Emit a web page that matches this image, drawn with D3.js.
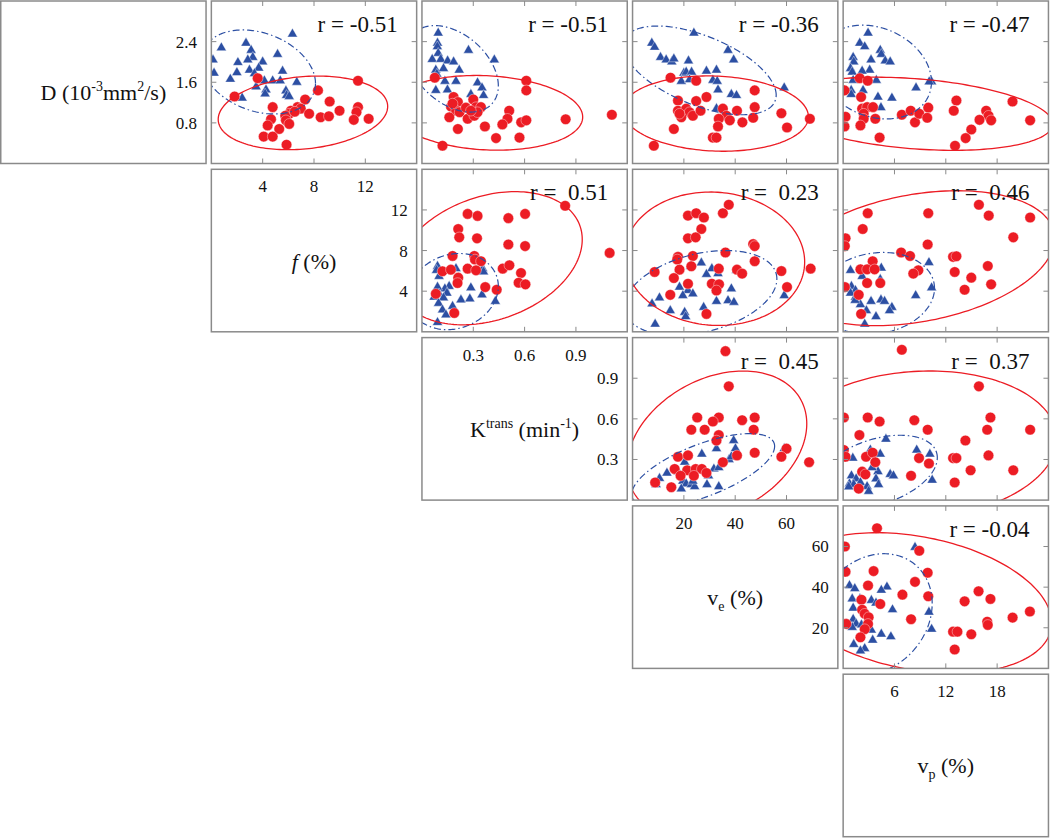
<!DOCTYPE html>
<html><head><meta charset="utf-8">
<script src="https://cdn.jsdelivr.net/npm/d3@7"></script>
<style>
body{margin:0;background:#fff;}
svg text{font-family:"Liberation Serif","Times New Roman",Times,"DejaVu Serif",serif;fill:#111;white-space:pre;}
</style></head><body>
<svg id="c" width="1050" height="838" font-family="Liberation Serif, Times New Roman, serif"></svg>
<script>
// ---------- variables / axes ----------
const varMax = [3.2, 16, 1.2, 80, 24];
const varTicks = [[0.8,1.6,2.4],[4,8,12],[0.3,0.6,0.9],[20,40,60],[6,12,18]];
const tickLabels = [["0.8","1.6","2.4"],["4","8","12"],["0.3","0.6","0.9"],["20","40","60"],["6","12","18"]];
const varLabels = [
  [["D (10","n"],["-3","sup"],["mm","n"],["2","sup"],["/s)","n"]],
  [["f","it"],[" (%)","n"]],
  [["K","n"],["trans","sup"],[" (min","n"],["-1","sup"],[")","n"]],
  [["v","n"],["e","sub"],[" (%)","n"]],
  [["v","n"],["p","sub"],[" (%)","n"]]
];
const rValues = [[0,1,-0.51],[0,2,-0.51],[0,3,-0.36],[0,4,-0.47],[1,2,0.51],[1,3,0.23],[1,4,0.46],[2,3,0.45],[2,4,0.37],[3,4,-0.04]];

// ---------- data: [x (column variable), y (row variable)] ----------
const blue_D_f = [[0.78,2.28],[2.7,2.37],[3.1,2.23],[3.23,2.09],[2.84,2.04],[5.16,2.15],[0.13,2.04],[2.07,1.99],[4.0,2.0],[3.69,1.88],[2.97,1.84],[1.99,1.79],[0.21,1.78],[3.36,1.77],[5.55,1.82],[1.48,1.66],[4.13,1.63],[4.78,1.63],[5.37,1.63],[6.66,1.6],[3.49,1.51],[4.26,1.45],[5.81,1.43],[4.19,1.37],[5.86,1.34],[2.4,1.29],[6.07,1.32],[6.32,2.55]];
const red_D_f = [[3.61,1.68],[1.81,1.32],[11.43,1.63],[8.31,1.44],[7.31,1.26],[9.22,1.22],[4.78,1.11],[6.71,1.11],[6.2,1.04],[6.97,1.08],[11.43,1.11],[9.99,1.04],[11.31,1.01],[6.07,0.98],[7.62,0.98],[5.76,0.94],[8.52,0.91],[9.16,0.93],[4.65,0.87],[5.81,0.85],[11.1,0.86],[12.26,0.88],[4.39,0.75],[6.07,0.78],[5.29,0.68],[4.08,0.53],[4.78,0.53],[5.86,0.37],[6.5,1.02]];
const blue_D_K = [[0.095,2.57],[0.091,2.37],[0.09,2.3],[0.095,2.17],[0.06,2.05],[0.11,2.05],[0.15,2.02],[0.185,2.0],[0.272,2.23],[0.423,2.04],[0.081,1.84],[0.126,1.87],[0.087,1.76],[0.218,1.84],[0.134,1.62],[0.199,1.62],[0.325,1.59],[0.351,1.49],[0.081,1.44],[0.149,1.45],[0.286,1.36],[0.36,1.34]];
const red_D_K = [[0.075,1.69],[0.185,1.31],[0.21,1.21],[0.17,1.12],[0.2,1.04],[0.16,0.91],[0.22,1.01],[0.257,1.1],[0.30,1.26],[0.316,1.11],[0.345,1.11],[0.267,0.88],[0.306,0.94],[0.325,1.01],[0.21,0.68],[0.368,0.73],[0.12,0.35],[0.433,0.5],[0.51,1.04],[0.50,0.88],[0.47,0.77],[0.58,0.81],[0.61,0.85],[0.57,0.51],[0.61,1.63],[0.61,1.44],[0.84,0.87],[1.11,0.96],[0.286,1.04],[0.179,1.18]];
const blue_D_ve = [[23.9,2.57],[7.5,2.37],[8.6,2.29],[37.2,2.23],[10.9,2.09],[13.1,2.04],[15.3,2.0],[16.1,2.06],[39.4,2.04],[21.8,2.02],[20,1.78],[20.9,1.8],[23,1.8],[28.8,1.82],[32.7,1.84],[19,1.62],[22.2,1.65],[31.3,1.64],[33,1.62],[33.3,1.45],[38.5,1.36],[40.5,1.34],[59.1,1.49],[32.7,1.08]];
const red_D_ve = [[14.8,1.69],[24.8,1.63],[28.8,1.31],[17.7,1.24],[24.8,1.23],[17.7,1.04],[20.9,1.08],[22.2,1.01],[19,0.91],[23.5,0.94],[26.5,1.04],[35.2,1.08],[36.6,0.94],[37.9,0.85],[33.6,0.88],[33.3,0.73],[40.7,1.04],[42.8,0.81],[47.6,1.44],[47.6,1.11],[47,0.9],[58,0.99],[60.2,0.71],[69.1,0.88],[16.1,0.68],[31.3,0.51],[32.7,0.51],[8.3,0.35],[18.3,0.98]];
const blue_D_vp = [[2.91,2.57],[1.94,2.37],[2.52,2.3],[4.34,2.23],[4.46,2.15],[1.17,2.09],[3.26,2.04],[4.92,2.02],[5.5,2.0],[1.24,2.0],[0.86,1.87],[3.1,1.84],[2.22,1.82],[1.06,1.8],[3.88,1.64],[1.17,1.64],[10.34,1.61],[10.06,1.61],[8.52,1.49],[2.33,1.44],[0.94,1.44],[0.94,1.36],[4.07,1.31],[5.7,1.29],[4.42,1.1]];
const red_D_vp = [[1.94,1.68],[2.87,1.63],[0.16,1.44],[2.1,1.31],[13.24,1.24],[12.93,1.04],[19.8,1.22],[2.22,1.08],[2.8,1.11],[3.49,1.11],[2.4,0.98],[0.28,0.92],[2.4,0.88],[3.76,0.88],[2.02,0.75],[0.16,0.73],[6.86,0.96],[7.9,1.04],[8.4,0.81],[8.9,0.98],[9.95,1.1],[9.83,0.9],[4.26,0.51],[16.72,1.04],[17.0,0.94],[17.3,0.85],[15.94,0.86],[14.98,0.67],[14.32,0.5],[13.08,0.35],[21.86,0.85]];
const blue_f_K = [[0.091,6.45],[0.085,6.05],[0.1,5.46],[0.199,6.22],[0.355,6.22],[0.36,5.9],[0.159,4.47],[0.134,4.24],[0.091,4.4],[0.286,4.34],[0.1,3.74],[0.146,3.81],[0.071,3.41],[0.228,3.14],[0.28,3.24],[0.351,3.64],[0.429,3.0],[0.126,3.34],[0.097,2.81],[0.179,2.51],[0.12,2.15],[0.14,1.66],[0.091,0.92]];
const red_f_K = [[0.837,12.41],[0.267,11.61],[0.325,11.41],[0.505,11.19],[0.603,11.61],[0.212,10.12],[0.218,9.3],[0.322,9.2],[0.505,8.6],[0.603,8.44],[1.097,7.77],[0.179,7.47],[0.306,7.47],[0.31,7.12],[0.345,6.95],[0.12,5.96],[0.169,6.12],[0.267,6.22],[0.316,6.05],[0.472,6.22],[0.511,6.55],[0.579,5.79],[0.212,5.33],[0.208,4.8],[0.565,4.83],[0.605,4.67],[0.37,4.4],[0.437,4.14],[0.081,3.74],[0.189,1.85]];
const blue_f_ve = [[26.8,6.78],[22.6,6.45],[30.9,6.22],[28.8,5.66],[33.3,5.73],[40.5,6.05],[18.3,4.4],[21.6,4.07],[23.5,3.74],[19.6,3.57],[38.5,4.24],[10.5,3.34],[59.1,3.57],[32.7,3.0],[37.2,3.08],[39.5,2.91],[7.6,2.75],[14.7,2.08],[20.3,1.92],[27.7,2.41],[20.7,1.49],[8.8,0.76]];
const red_f_ve = [[37.5,12.51],[35.2,11.68],[21.6,11.44],[24.8,11.68],[27.8,11.25],[26.8,10.12],[21.6,9.2],[24.6,9.3],[47,8.64],[47.6,8.44],[36.2,7.81],[17.7,7.38],[17.4,7.12],[23.5,7.47],[47.6,6.95],[8.6,5.89],[18.3,6.12],[22.9,6.45],[33.6,6.22],[40.7,6.12],[42.7,5.73],[58,5.98],[69.4,6.22],[16.1,5.29],[21.6,4.73],[30.9,4.73],[33.7,4.67],[32.7,4.07],[60.2,4.4],[14.7,3.64],[28.8,1.76]];
const blue_f_vp = [[10.03,6.82],[4.46,6.28],[0.86,6.05],[2.14,6.05],[2.22,5.46],[4.34,5.16],[0.97,4.47],[1.44,4.07],[0.86,3.81],[10.34,4.34],[1.44,3.41],[8.48,3.57],[2.02,2.68],[3.26,3.0],[4.42,3.14],[4.84,3.0],[5.7,2.41],[5.42,2.08],[2.72,2.08],[3.84,1.49],[2.52,0.76],[1.4,3.1]];
const red_f_vp = [[15.87,12.51],[2.87,11.68],[9.95,11.68],[17.02,11.44],[21.86,11.25],[2.29,10.12],[19.89,9.3],[0.28,9.2],[0.2,8.44],[9.88,8.6],[6.78,7.81],[7.82,7.47],[12.85,7.38],[13.24,7.44],[3.45,6.95],[16.91,6.48],[2.02,6.15],[2.8,6.15],[3.68,6.15],[8.79,6.05],[8.2,5.73],[13.04,5.89],[0.2,4.4],[2.8,4.8],[4.34,4.8],[14.98,5.33],[17.3,4.67],[14.2,4.14],[1.82,3.64],[2.1,1.76]];
const blue_K_ve = [[39.4,0.44],[32.7,0.38],[40.1,0.38],[27,0.34],[59.1,0.38],[20.3,0.28],[13.4,0.20],[17.7,0.21],[31.7,0.23],[33.6,0.24],[37.6,0.30],[38.5,0.32],[10.5,0.16],[9.2,0.115],[19.6,0.14],[20.9,0.12],[22.9,0.115],[19,0.083],[24.2,0.10],[29,0.115],[33.6,0.10],[23.5,0.14],[29.6,0.18]];
const red_K_ve = [[36.2,1.10],[37.5,0.84],[25.2,0.61],[33.6,0.61],[31.3,0.58],[42.7,0.59],[47.6,0.61],[22.9,0.52],[28.1,0.52],[47.2,0.52],[33.6,0.48],[32.7,0.44],[60,0.38],[58,0.32],[47.6,0.35],[40.7,0.33],[17.7,0.32],[21.6,0.33],[68.8,0.28],[35.2,0.28],[16.4,0.23],[21.3,0.22],[24.6,0.23],[27,0.23],[28.8,0.20],[18.7,0.18],[23.9,0.18],[8.8,0.13],[15.1,0.095]];
const blue_K_vp = [[5.0,0.45],[1.13,0.31],[8.6,0.37],[10.14,0.34],[3.18,0.37],[4.34,0.34],[4.07,0.21],[3.38,0.24],[5.5,0.19],[5.88,0.18],[10.41,0.147],[0.97,0.18],[1.52,0.157],[3.84,0.157],[0.74,0.12],[1.24,0.115],[2.02,0.13],[2.8,0.10],[2.98,0.065],[4.14,0.115],[0.66,0.098]];
const red_K_vp = [[6.86,1.11],[15.87,0.84],[0.08,0.61],[2.87,0.61],[4.26,0.58],[8.32,0.59],[17.22,0.61],[9.88,0.52],[16.84,0.52],[21.86,0.52],[1.9,0.48],[14.29,0.44],[0.08,0.37],[0.28,0.32],[2.68,0.32],[3.45,0.35],[3.76,0.28],[8.87,0.31],[10.03,0.27],[12.85,0.31],[13.24,0.31],[16.99,0.33],[14.9,0.22],[19.89,0.22],[7.94,0.18],[2.22,0.21],[2.6,0.19],[13.04,0.13],[1.82,0.085]];
const blue_ve_vp = [[8.4,59.6],[0.74,40.8],[1.36,39.3],[5.12,40.1],[4.46,38.5],[1.06,34.2],[1.96,34.2],[3.3,33.5],[3.84,32.2],[5.77,28.9],[1.17,29.7],[10.03,27.7],[1.17,24.2],[1.52,21.9],[1.06,20.2],[2.14,21.4],[3.3,18.9],[10.34,19.3],[4.46,16.9],[5.58,15.6],[3.45,13.9],[1.24,11.8],[2.52,9.8],[2.02,8.6]];
const red_ve_vp = [[3.96,69],[0.2,60],[8.9,57.9],[0.28,47.6],[3.56,47.9],[9.88,47.1],[8.4,42.6],[2.91,40.8],[6.93,36.3],[9.95,35.5],[15.83,38],[14.2,33],[17.22,34.2],[2.14,33.8],[4.34,31.7],[2.22,28.9],[2.52,26.9],[2.98,25.2],[21.83,28],[19.81,25],[7.94,24.2],[0.36,21.9],[2.91,21.9],[16.84,23],[16.91,21.4],[2.52,19.3],[12.85,18.1],[13.36,18.1],[14.98,16.8],[2.02,15.3],[13.04,9.3]];

// table of panels built from the arrays above
const panels = [
  [0,1,blue_D_f,red_D_f],[0,2,blue_D_K,red_D_K],[0,3,blue_D_ve,red_D_ve],[0,4,blue_D_vp,red_D_vp],
  [1,2,blue_f_K,red_f_K],[1,3,blue_f_ve,red_f_ve],[1,4,blue_f_vp,red_f_vp],
  [2,3,blue_K_ve,red_K_ve],[2,4,blue_K_vp,red_K_vp],
  [3,4,blue_ve_vp,red_ve_vp]
];

// ---------- layout ----------
const W = 205.3, H = 162.5;
const colLeft = j => 0.75 + j * 210.6;
const rowTop = i => 1 + i * 168.3;
const BLUE = "#2c4fa3", RED = "#ec1c24", BORDER = "#8a8a8a";
const K95 = Math.sqrt(5.991);
const FONT = "'Liberation Serif', 'Times New Roman', Times, serif";

const svg = d3.select("#c");
const defs = svg.append("defs");
const xScale = j => d3.scaleLinear().domain([0, varMax[j]]).range([colLeft(j), colLeft(j) + W]);
const yScale = i => d3.scaleLinear().domain([0, varMax[i]]).range([rowTop(i) + H, rowTop(i)]);

function ellipsePts(pts) {
  const n = pts.length;
  const mx = d3.mean(pts, d => d[0]), my = d3.mean(pts, d => d[1]);
  const sx = d3.deviation(pts, d => d[0]), sy = d3.deviation(pts, d => d[1]);
  const cov = d3.sum(pts, d => (d[0]-mx)*(d[1]-my)) / (n - 1);
  const rho = cov / (sx * sy);
  const q = Math.sqrt(1 - rho * rho);
  return d3.range(0, 181).map(k => {
    const t = k / 180 * 2 * Math.PI;
    return [mx + K95 * sx * Math.cos(t), my + K95 * sy * (rho * Math.cos(t) + q * Math.sin(t))];
  });
}

function addLabel(g, x, y, segs) {
  const t = g.append("text").attr("x", x).attr("y", y).attr("text-anchor", "middle")
    .attr("font-size", 22).style("font-family", FONT);
  let shift = 0;
  segs.forEach(([s, type]) => {
    const target = type === "sup" ? -9 : type === "sub" ? 6 : 0;
    const ts = t.append("tspan").text(s).attr("dy", target - shift);
    shift = target;
    if (type === "sup" || type === "sub") ts.attr("font-size", 14);
    if (type === "it") ts.attr("font-style", "italic");
  });
}

// ---------- diagonal panels ----------
for (let k = 0; k < 5; k++) {
  const g = svg.append("g");
  const x0 = colLeft(k), y0 = rowTop(k);
  g.append("rect").attr("x", x0).attr("y", y0).attr("width", W).attr("height", H)
    .attr("fill", "none").attr("stroke", BORDER).attr("stroke-width", 1.5);
  addLabel(g, x0 + W / 2, y0 + H / 2 + 18, varLabels[k]);
  if (k > 0) {
    const xs = xScale(k);
    varTicks[k].forEach((v, idx) => {
      g.append("text").attr("x", xs(v)).attr("y", y0 + 23).attr("text-anchor", "middle")
        .attr("font-size", 17).style("font-family", FONT).text(tickLabels[k][idx]);
    });
  }
  if (k < 4) {
    const ys = yScale(k);
    varTicks[k].forEach((v, idx) => {
      g.append("text").attr("x", x0 + W - 9).attr("y", ys(v)).attr("dy", "0.35em")
        .attr("text-anchor", "end").attr("font-size", 17).style("font-family", FONT).text(tickLabels[k][idx]);
    });
  }
}

// ---------- scatter panels ----------
const lineGen = d3.line();
panels.forEach(([i, j, blue, red]) => {
  const xs = xScale(j), ys = yScale(i);
  const x0 = colLeft(j), y0 = rowTop(i);
  const cid = `clip-${i}-${j}`;
  defs.append("clipPath").attr("id", cid).append("rect")
    .attr("x", x0).attr("y", y0).attr("width", W).attr("height", H);
  const g = svg.append("g");
  const inner = g.append("g").attr("clip-path", `url(#${cid})`);

  inner.selectAll("path.tri").data(blue).join("path").attr("class", "tri")
    .attr("d", d3.symbol().type(d3.symbolTriangle).size(44))
    .attr("transform", d => `translate(${xs(d[0])},${ys(d[1])})`)
    .attr("fill", BLUE).attr("stroke", "#fff").attr("stroke-width", 0.4);
  inner.selectAll("circle").data(red).join("circle")
    .attr("cx", d => xs(d[0])).attr("cy", d => ys(d[1])).attr("r", 5.3)
    .attr("fill", RED).attr("stroke", "#fff").attr("stroke-width", 0.4);

  inner.append("path").attr("d", lineGen(ellipsePts(blue).map(p => [xs(p[0]), ys(p[1])])))
    .attr("fill", "none").attr("stroke", BLUE).attr("stroke-width", 1.2)
    .attr("stroke-dasharray", "7,3,1.5,3");
  inner.append("path").attr("d", lineGen(ellipsePts(red).map(p => [xs(p[0]), ys(p[1])])))
    .attr("fill", "none").attr("stroke", RED).attr("stroke-width", 1.3);

  // inward ticks on all four sides
  const tl = 5;
  varTicks[j].forEach(v => {
    g.append("line").attr("x1", xs(v)).attr("x2", xs(v)).attr("y1", y0 + H).attr("y2", y0 + H - tl).attr("stroke", BORDER);
    g.append("line").attr("x1", xs(v)).attr("x2", xs(v)).attr("y1", y0).attr("y2", y0 + tl).attr("stroke", BORDER);
  });
  varTicks[i].forEach(v => {
    g.append("line").attr("y1", ys(v)).attr("y2", ys(v)).attr("x1", x0).attr("x2", x0 + tl).attr("stroke", BORDER);
    g.append("line").attr("y1", ys(v)).attr("y2", ys(v)).attr("x1", x0 + W).attr("x2", x0 + W - tl).attr("stroke", BORDER);
  });
  g.append("rect").attr("x", x0).attr("y", y0).attr("width", W).attr("height", H)
    .attr("fill", "none").attr("stroke", BORDER).attr("stroke-width", 1.5);

  const r = rValues.find(d => d[0] === i && d[1] === j)[2];
  g.append("text").attr("x", x0 + W - 19).attr("y", y0 + 31).attr("text-anchor", "end")
    .attr("font-size", 23).style("font-family", FONT).text("r = " + (r < 0 ? "" : " ") + r.toFixed(2));
});
</script>
</body></html>
